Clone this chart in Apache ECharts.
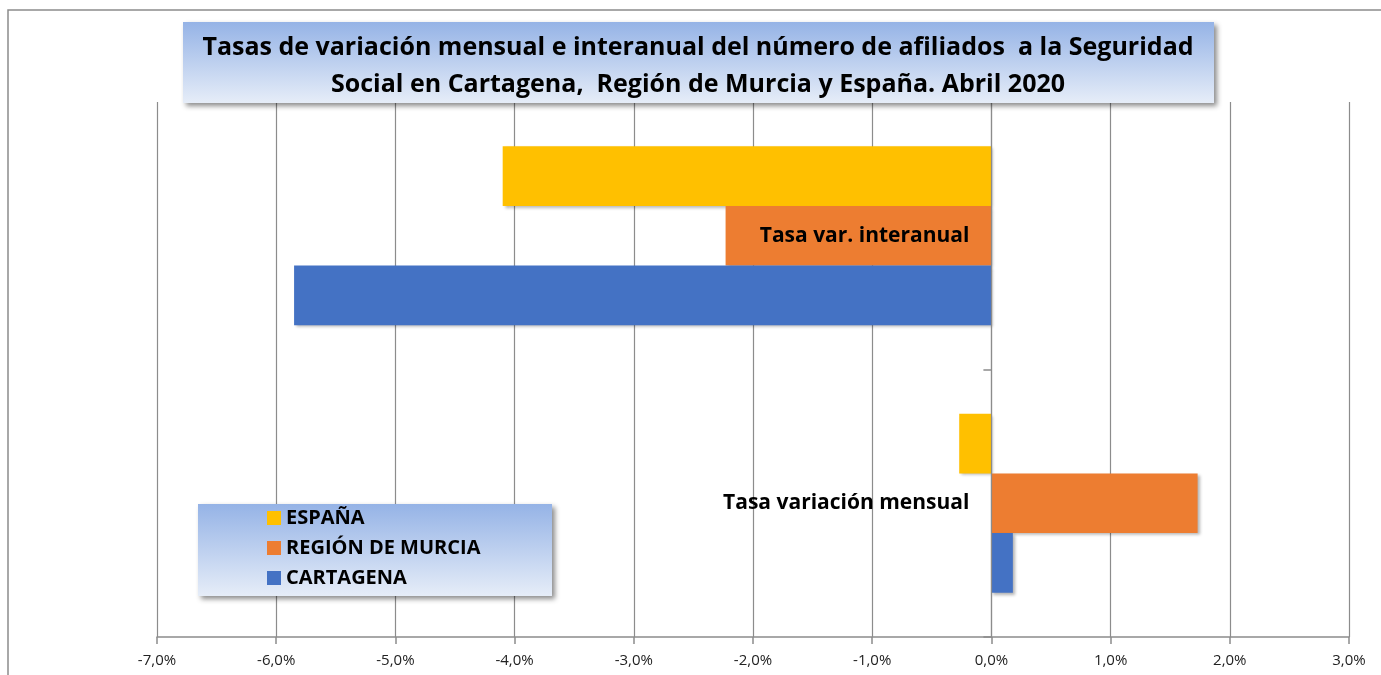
<!DOCTYPE html>
<html>
<head>
<meta charset="utf-8">
<script src="https://cdn.jsdelivr.net/npm/echarts@6/dist/echarts.min.js"></script>
<style>
  html, body { margin: 0; padding: 0; background: #fff; }
  #chart { width: 1381px; height: 675px; }
</style>
</head>
<body>
<div id="chart"></div>
<script>
// categorias (de abajo a arriba en el eje)
const categories = ['Tasa variación mensual', 'Tasa var. interanual'];
// valores en %
const espana = [-0.27, -4.10];
const murcia = [1.73, -2.23];
const cartagena = [0.18, -5.85];
const seriesNames = ['ESPAÑA', 'REGIÓN DE MURCIA', 'CARTAGENA'];
const colors = { 'ESPAÑA': '#FFC000', 'REGIÓN DE MURCIA': '#ED7D31', 'CARTAGENA': '#4472C4' };

const FONT = '"Open Sans", Lato, sans-serif';
const xMin = -7, xMax = 3;
const gridLeft = 157, gridRight = 32;

const chart = echarts.init(document.getElementById('chart'));

function barSeries(name, values) {
  return {
    name: name,
    type: 'bar',
    data: values,
    barGap: '0%',
    barCategoryGap: '33%',
    itemStyle: {
      color: colors[name],
      shadowBlur: 3,
      shadowOffsetX: 2,
      shadowOffsetY: 2,
      shadowColor: 'rgba(0,0,0,0.3)',
    },
  };
}

// eje vertical colocado sobre el 0 (desplazado desde el borde izquierdo)
const plotW = 1381 - gridLeft - gridRight;
const zeroOffset = -plotW * (0 - xMin) / (xMax - xMin);

const boxFill = () => new echarts.graphic.LinearGradient(0, 0, 0, 1, [
  { offset: 0, color: '#95b3e6' },
  { offset: 1, color: '#e6edf8' },
]);

const option = {
  animation: false,
  title: {
    text: 'Tasas de variación mensual e interanual del número de afiliados  a la Seguridad\nSocial en Cartagena,  Región de Murcia y España. Abril 2020',
    left: 698,
    textAlign: 'center',
    top: 29,
    padding: 0,
    textStyle: {
      fontFamily: FONT,
      fontWeight: 'bold',
      fontSize: 25,
      lineHeight: 37,
      color: '#000',
    },
    z: 12,
  },
  graphic: [
    // marco
    {
      type: 'rect',
      shape: { x: 8, y: 10, width: 1400, height: 700 },
      style: { fill: 'none', stroke: '#8c8c8c', lineWidth: 1.5 },
      z: -10,
    },
    // caja del título
    {
      type: 'rect',
      shape: { x: 183, y: 22, width: 1031, height: 81 },
      style: {
        fill: boxFill(),
        shadowBlur: 5,
        shadowOffsetX: 3,
        shadowOffsetY: 3,
        shadowColor: 'rgba(0,0,0,0.45)',
      },
      z: 11,
    },
    // caja de la leyenda
    {
      type: 'rect',
      shape: { x: 198, y: 504, width: 354, height: 92 },
      style: {
        fill: boxFill(),
        shadowBlur: 5,
        shadowOffsetX: 3,
        shadowOffsetY: 3,
        shadowColor: 'rgba(0,0,0,0.45)',
      },
      z: 5,
    },
  ],
  legend: {
    data: seriesNames,
    orient: 'vertical',
    left: 267,
    top: 508,
    padding: 0,
    itemGap: 10,
    itemWidth: 14,
    itemHeight: 14,
    icon: 'rect',
    textStyle: {
      fontFamily: FONT,
      fontWeight: 'bold',
      fontSize: 20,
      lineHeight: 20,
      color: '#000',
    },
    z: 10,
  },
  grid: {
    left: gridLeft,
    right: gridRight,
    top: 102,
    bottom: 38,
    containLabel: false,
    outerBoundsMode: 'none',
  },
  xAxis: {
    type: 'value',
    min: xMin,
    max: xMax,
    interval: 1,
    axisLine: { show: true, lineStyle: { color: '#8c8c8c', width: 1.5 } },
    axisTick: { show: true, length: 7, lineStyle: { color: '#8c8c8c', width: 1.5 } },
    splitLine: { show: true, lineStyle: { color: '#8c8c8c', width: 1.2 } },
    axisLabel: {
      margin: 16,
      fontFamily: FONT,
      fontSize: 15,
      color: '#222',
      formatter: (v) => v.toFixed(1).replace('.', ',') + '%',
    },
  },
  yAxis: {
    type: 'category',
    data: categories,
    z: 10,
    offset: zeroOffset,
    axisLine: { show: true, onZero: false, lineStyle: { color: '#8c8c8c', width: 1.2 } },
    axisTick: { show: true, length: 8, lineStyle: { color: '#8c8c8c', width: 1.5 } },
    axisLabel: {
      margin: 22,
      fontFamily: FONT,
      fontWeight: 'bold',
      fontSize: 21,
      color: '#000',
    },
  },
  series: [
    barSeries('ESPAÑA', espana),
    barSeries('REGIÓN DE MURCIA', murcia),
    barSeries('CARTAGENA', cartagena),
  ],
};

chart.setOption(option);
</script>
</body>
</html>
